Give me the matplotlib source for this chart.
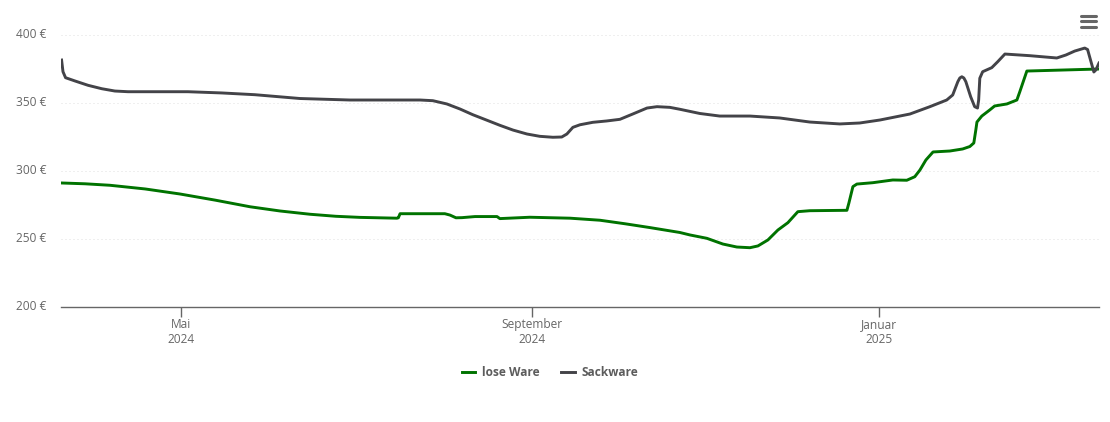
import matplotlib
matplotlib.use("Agg")
import matplotlib.pyplot as plt
import matplotlib.dates as mdates
from matplotlib.lines import Line2D
from matplotlib.transforms import ScaledTranslation
import pandas as pd

plt.rcParams['font.family'] = ['Open Sans', 'DejaVu Sans']

START = "2024-03-20"
lose_days = [0, 8.4, 17.2, 29.5, 41.7, 54, 66.3, 76.8, 87.3, 96.4, 104.8, 117.8, 118.3, 118.9, 134.6, 136.4,
             138.5, 140.6, 145.2, 152.9, 153.9, 164.4, 178.5, 189, 197.8, 206.5, 217, 220.5, 226.5, 232.1, 237,
             241.6, 244.4, 247.9, 251.4, 254.9, 258.4, 262.6, 275.6, 276.3, 277.7, 279.1, 284.7, 291.7, 296.6,
             299.4, 301.2, 303.3, 305.8, 311.7, 316.2, 318.7, 320.1, 320.8, 321.2, 322.9, 325.7, 327.4, 331.7,
             335.2, 336.2, 338.7, 364]
lose_ware = [291.2, 290.6, 289.5, 286.8, 283.1, 278.6, 273.7, 270.6, 268.2, 266.7, 265.9, 265.3, 265.6, 268.6, 268.6, 267.6,
             265.6, 265.7, 266.5, 266.5, 265.0, 266.0, 265.3, 263.8, 261.2, 258.4, 254.8, 253.0, 250.5, 246.3, 244.1,
             243.6, 244.9, 249.3, 256.6, 262.0, 270.1, 270.8, 271.1, 276.5, 288.5, 290.4, 291.4, 293.4, 293.2,
             295.8, 300.7, 308.1, 314.0, 314.7, 316.2, 318.0, 320.6, 330.1, 336.0, 340.4, 344.9, 347.8, 349.3,
             352.2, 358.1, 373.5, 375.0]

sack_days = [0.2, 0.7, 1.6, 4.9, 9.5, 14.3, 18.9, 23.5, 44.5, 56.3, 68, 83.8, 101.3, 125.9, 130.4, 135.3,
             139.9, 144.4, 149.4, 153.9, 158.5, 163.4, 167.9, 172.5, 175.6, 177.4, 179.5, 182, 186.5, 191.4,
             196, 200.5, 205.5, 209, 213.5, 217, 224, 231, 241.6, 252, 262.6, 273.1, 280.1, 287.2, 297.7,
             304.7, 310.6, 312.7, 314.5, 315.2, 315.9, 316.6, 317.3, 319, 320.4, 321.4, 321.8, 322.2, 323.2,
             326.4, 328.5, 331, 339.7, 349.2, 352.4, 355.5, 359, 360, 362.2, 362.9, 364]
sackware = [381.6, 373.0, 368.6, 366.2, 363.0, 360.5, 358.8, 358.3, 358.3, 357.4, 356.1, 353.3, 352.2, 352.2, 351.7, 349.3,
            345.6, 341.4, 337.3, 333.6, 330.1, 327.2, 325.5, 324.8, 325.0, 327.2, 332.1, 334.0, 335.8, 336.8,
            338.0, 341.9, 346.3, 347.3, 346.8, 345.4, 342.3, 340.4, 340.4, 339.0, 336.0, 334.6, 335.3, 337.5, 341.9,
            347.3, 352.2, 355.9, 365.7, 368.4, 369.3, 368.4, 365.7, 354.6, 347.3, 346.3, 352.2, 368.2, 373.0,
            376.0, 380.4, 386.0, 384.8, 383.1, 385.3, 388.2, 390.4, 389.3, 372.8, 374.3, 379.4]

fig = plt.figure(figsize=(11.1, 4.22), dpi=100)
ax = fig.add_axes([61/1110, (422-307)/422, (1099-61)/1110, (307-35)/422])

x0 = pd.Timestamp(START)
lose_x = [x0 + pd.Timedelta(days=d) for d in lose_days]
sack_x = [x0 + pd.Timedelta(days=d) for d in sack_days]
ax.plot(lose_x, lose_ware, color="#007300", lw=2.1, solid_joinstyle="round", label="lose Ware")
ax.plot(sack_x, sackware, color="#434348", lw=2.1, solid_joinstyle="round", label="Sackware")

ax.set_xlim(x0, x0 + pd.Timedelta(days=364))
ax.set_ylim(200, 400)

ytick_values = [200, 250, 300, 350, 400]
ax.set_yticks(ytick_values)
ax.set_yticklabels([f"{v} €" for v in ytick_values])
xtick_dates = ["2024-05-01", "2024-09-01", "2025-01-01"]
xtick_labels = ["Mai\n2024", "September\n2024", "Januar\n2025"]
ax.set_xticks([mdates.date2num(pd.Timestamp(d)) for d in xtick_dates])
ax.set_xticklabels(xtick_labels, linespacing=1.25)

ax.tick_params(axis="y", length=0, pad=10.5, labelsize=8.6, labelcolor="#666666")
ax.tick_params(axis="x", length=7.2, width=1, color="#666666", pad=0.5, labelsize=8.6, labelcolor="#666666")
up = ScaledTranslation(0, 1.5/100, fig.dpi_scale_trans)
for lab in ax.get_yticklabels():
    lab.set_transform(lab.get_transform() + up)
ax.grid(axis="y", color="#e0e0e0", lw=0.72, ls=(0, (1, 3)))
ax.set_axisbelow(True)
for s in ["top", "right", "left"]:
    ax.spines[s].set_visible(False)
ax.spines["bottom"].set_color("#666666")
ax.spines["bottom"].set_linewidth(1)

leg = fig.legend(loc="center", bbox_to_anchor=(550/1110, 1 - 373/422), ncol=2, frameon=False,
                 handlelength=1.17, handletextpad=0.55, columnspacing=1.8,
                 prop={"size": 8.6, "weight": "bold"}, labelcolor="#5c5c5c")

# hamburger menu icon
for y in (16, 21.3, 26.5):
    fig.add_artist(Line2D([1081/1110, 1095.5/1110], [1 - y/422]*2, color="#666666", lw=2.2,
                          solid_capstyle="round", transform=fig.transFigure))

fig.savefig("out.png", dpi=100)
